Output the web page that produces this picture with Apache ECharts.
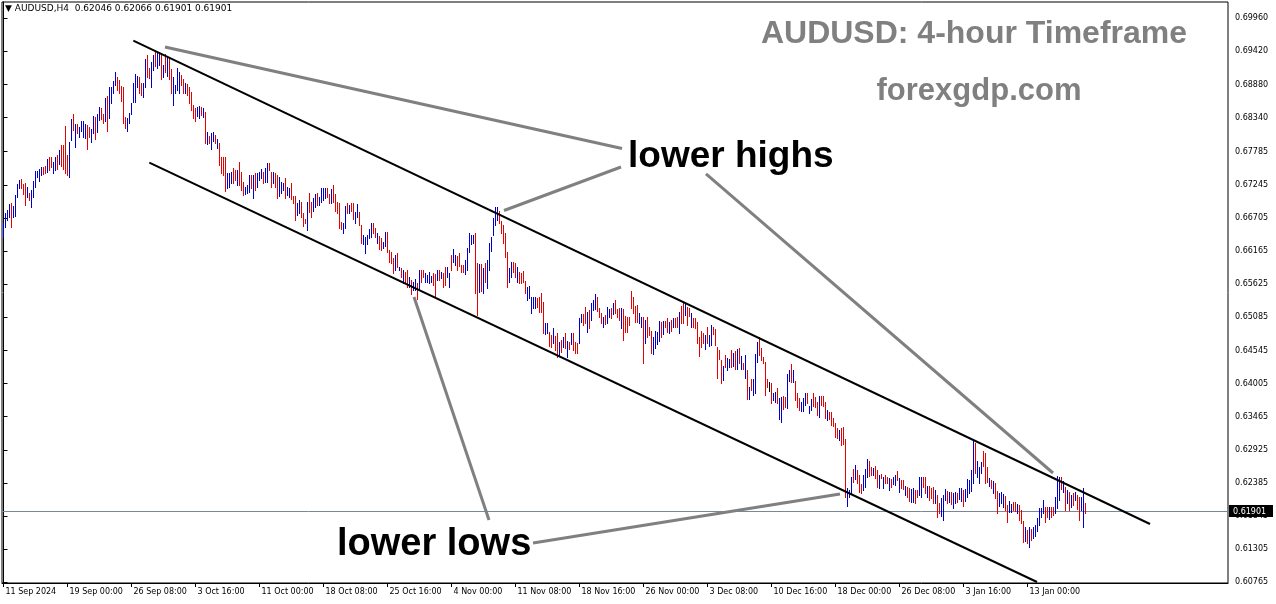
<!DOCTYPE html>
<html><head><meta charset="utf-8">
<script src="https://cdn.jsdelivr.net/npm/echarts@6/dist/echarts.min.js"></script>
<style>html,body{margin:0;padding:0;background:#fff;}#chart{width:1276px;height:604px;}</style>
</head><body><div id="chart"></div>
<script>
// AUDUSD H4 bars (high / low per bar), first bar 11 Sep 2024 16:00
const highs = [
0.6662,0.6679,0.6684,0.6693,0.6695,0.6690,0.6708,0.6726,0.6732,0.6734,
0.6726,0.6728,0.6721,0.6711,0.6716,0.6731,0.6747,0.6747,0.6750,0.6754,
0.6754,0.6755,0.6767,0.6770,0.6770,0.6762,0.6770,0.6773,0.6781,0.6789,
0.6789,0.6820,0.6773,0.6794,0.6832,0.6840,0.6824,0.6824,0.6819,0.6829,
0.6829,0.6824,0.6822,0.6819,0.6816,0.6837,0.6835,0.6840,0.6851,0.6850,
0.6840,0.6866,0.6869,0.6884,0.6884,0.6894,0.6908,0.6900,0.6895,0.6886,
0.6884,0.6835,0.6833,0.6842,0.6858,0.6891,0.6905,0.6902,0.6900,0.6891,
0.6891,0.6930,0.6936,0.6915,0.6925,0.6936,0.6941,0.6939,0.6941,0.6939,
0.6920,0.6938,0.6933,0.6931,0.6913,0.6900,0.6887,0.6915,0.6909,0.6904,
0.6897,0.6891,0.6889,0.6884,0.6876,0.6855,0.6850,0.6851,0.6853,0.6851,
0.6850,0.6843,0.6811,0.6804,0.6809,0.6811,0.6806,0.6799,0.6793,0.6770,
0.6770,0.6770,0.6744,0.6744,0.6746,0.6752,0.6749,0.6749,0.6762,0.6746,
0.6729,0.6721,0.6724,0.6741,0.6741,0.6741,0.6744,0.6744,0.6746,0.6750,
0.6746,0.6752,0.6760,0.6760,0.6746,0.6746,0.6744,0.6741,0.6737,0.6729,
0.6728,0.6736,0.6721,0.6719,0.6728,0.6706,0.6706,0.6695,0.6700,0.6697,
0.6679,0.6669,0.6697,0.6711,0.6697,0.6703,0.6710,0.6711,0.6705,0.6719,
0.6719,0.6719,0.6719,0.6710,0.6718,0.6724,0.6710,0.6697,0.6695,0.6664,
0.6662,0.6690,0.6695,0.6692,0.6695,0.6695,0.6680,0.6693,0.6680,0.6659,
0.6643,0.6640,0.6643,0.6653,0.6662,0.6662,0.6654,0.6646,0.6641,0.6638,
0.6631,0.6647,0.6648,0.6618,0.6615,0.6605,0.6610,0.6613,0.6591,0.6589,
0.6586,0.6583,0.6586,0.6574,0.6569,0.6566,0.6571,0.6565,0.6586,0.6586,
0.6586,0.6581,0.6578,0.6583,0.6576,0.6581,0.6579,0.6586,0.6586,0.6583,
0.6581,0.6591,0.6591,0.6581,0.6610,0.6620,0.6610,0.6608,0.6613,0.6594,
0.6594,0.6602,0.6622,0.6646,0.6643,0.6643,0.6646,0.6597,0.6596,0.6596,
0.6589,0.6597,0.6602,0.6630,0.6640,0.6670,0.6688,0.6688,0.6682,0.6666,
0.6659,0.6646,0.6615,0.6589,0.6599,0.6599,0.6597,0.6591,0.6583,0.6581,
0.6584,0.6568,0.6558,0.6560,0.6542,0.6542,0.6542,0.6540,0.6542,0.6548,
0.6534,0.6499,0.6499,0.6485,0.6480,0.6491,0.6478,0.6483,0.6468,0.6472,
0.6476,0.6483,0.6470,0.6468,0.6483,0.6483,0.6468,0.6467,0.6508,0.6514,
0.6514,0.6525,0.6517,0.6521,0.6532,0.6537,0.6547,0.6542,0.6524,0.6516,
0.6509,0.6512,0.6525,0.6522,0.6524,0.6532,0.6537,0.6522,0.6524,0.6524,
0.6522,0.6511,0.6509,0.6509,0.6551,0.6542,0.6527,0.6529,0.6516,0.6509,
0.6509,0.6504,0.6509,0.6493,0.6486,0.6477,0.6486,0.6485,0.6502,0.6501,
0.6502,0.6502,0.6508,0.6501,0.6504,0.6508,0.6508,0.6509,0.6517,0.6527,
0.6534,0.6530,0.6525,0.6524,0.6516,0.6508,0.6508,0.6501,0.6477,0.6486,
0.6483,0.6480,0.6493,0.6480,0.6496,0.6493,0.6489,0.6460,0.6455,0.6439,
0.6429,0.6447,0.6442,0.6441,0.6455,0.6450,0.6454,0.6457,0.6458,0.6446,
0.6434,0.6447,0.6423,0.6395,0.6408,0.6408,0.6449,0.6468,0.6476,0.6459,
0.6444,0.6436,0.6408,0.6403,0.6401,0.6385,0.6387,0.6393,0.6377,0.6379,
0.6380,0.6379,0.6416,0.6423,0.6433,0.6423,0.6405,0.6385,0.6377,0.6370,
0.6377,0.6385,0.6385,0.6364,0.6375,0.6385,0.6379,0.6370,0.6380,0.6380,
0.6380,0.6370,0.6357,0.6354,0.6354,0.6344,0.6336,0.6328,0.6325,0.6328,
0.6330,0.6310,0.6230,0.6227,0.6248,0.6261,0.6268,0.6260,0.6251,0.6237,
0.6251,0.6261,0.6277,0.6274,0.6264,0.6263,0.6266,0.6260,0.6251,0.6253,
0.6248,0.6251,0.6248,0.6246,0.6245,0.6248,0.6251,0.6258,0.6246,0.6243,
0.6243,0.6233,0.6232,0.6230,0.6229,0.6230,0.6227,0.6227,0.6248,0.6248,
0.6248,0.6248,0.6233,0.6233,0.6230,0.6232,0.6227,0.6219,0.6206,0.6214,
0.6219,0.6229,0.6225,0.6224,0.6224,0.6222,0.6224,0.6222,0.6230,0.6230,
0.6227,0.6229,0.6245,0.6243,0.6260,0.6309,0.6304,0.6274,0.6264,0.6273,
0.6291,0.6287,0.6264,0.6246,0.6243,0.6242,0.6238,0.6225,0.6222,0.6224,
0.6220,0.6217,0.6203,0.6209,0.6204,0.6208,0.6208,0.6204,0.6203,0.6195,
0.6177,0.6167,0.6162,0.6167,0.6164,0.6167,0.6170,0.6181,0.6198,0.6198,
0.6211,0.6199,0.6199,0.6199,0.6199,0.6199,0.6216,0.6250,0.6248,0.6248,
0.6242,0.6232,0.6227,0.6224,0.6219,0.6222,0.6224,0.6219,0.6216,0.6216,
0.6230,0.62066
];
const lows = [
0.6640,0.6656,0.6667,0.6672,0.6656,0.6672,0.6674,0.6705,0.6719,0.6719,
0.6710,0.6692,0.6705,0.6700,0.6688,0.6705,0.6721,0.6737,0.6731,0.6741,
0.6742,0.6744,0.6746,0.6749,0.6754,0.6744,0.6749,0.6750,0.6758,0.6755,
0.6750,0.6744,0.6741,0.6737,0.6798,0.6814,0.6786,0.6809,0.6802,0.6812,
0.6802,0.6801,0.6783,0.6802,0.6794,0.6809,0.6799,0.6811,0.6830,0.6832,
0.6825,0.6829,0.6812,0.6833,0.6858,0.6874,0.6887,0.6879,0.6874,0.6861,
0.6825,0.6817,0.6812,0.6825,0.6840,0.6860,0.6860,0.6884,0.6874,0.6871,
0.6868,0.6884,0.6900,0.6899,0.6884,0.6912,0.6918,0.6915,0.6920,0.6897,
0.6900,0.6909,0.6902,0.6897,0.6874,0.6855,0.6874,0.6879,0.6874,0.6887,
0.6874,0.6874,0.6871,0.6858,0.6847,0.6833,0.6829,0.6837,0.6833,0.6838,
0.6835,0.6793,0.6791,0.6793,0.6783,0.6796,0.6793,0.6785,0.6757,0.6744,
0.6741,0.6714,0.6719,0.6721,0.6728,0.6728,0.6732,0.6724,0.6724,0.6716,
0.6708,0.6710,0.6711,0.6713,0.6719,0.6703,0.6716,0.6721,0.6732,0.6736,
0.6728,0.6729,0.6729,0.6749,0.6721,0.6728,0.6721,0.6703,0.6706,0.6711,
0.6716,0.6703,0.6708,0.6705,0.6701,0.6695,0.6667,0.6675,0.6679,0.6672,
0.6657,0.6662,0.6651,0.6680,0.6672,0.6682,0.6688,0.6692,0.6692,0.6697,
0.6700,0.6703,0.6705,0.6695,0.6695,0.6697,0.6682,0.6679,0.6654,0.6653,
0.6646,0.6654,0.6679,0.6679,0.6682,0.6669,0.6662,0.6672,0.6659,0.6630,
0.6628,0.6613,0.6628,0.6638,0.6640,0.6646,0.6640,0.6630,0.6620,0.6618,
0.6622,0.6625,0.6615,0.6599,0.6597,0.6581,0.6586,0.6591,0.6586,0.6574,
0.6565,0.6565,0.6558,0.6558,0.6547,0.6553,0.6553,0.6538,0.6553,0.6566,
0.6574,0.6566,0.6566,0.6565,0.6566,0.6561,0.6542,0.6569,0.6569,0.6573,
0.6558,0.6561,0.6574,0.6558,0.6586,0.6599,0.6594,0.6586,0.6592,0.6583,
0.6583,0.6579,0.6586,0.6615,0.6628,0.6630,0.6548,0.6512,0.6550,0.6551,
0.6548,0.6566,0.6556,0.6586,0.6617,0.6643,0.6659,0.6667,0.6662,0.6646,
0.6630,0.6607,0.6558,0.6566,0.6574,0.6583,0.6574,0.6566,0.6565,0.6565,
0.6566,0.6548,0.6537,0.6540,0.6516,0.6524,0.6524,0.6525,0.6517,0.6517,
0.6483,0.6481,0.6483,0.6462,0.6460,0.6467,0.6455,0.6444,0.6447,0.6452,
0.6460,0.6458,0.6444,0.6457,0.6465,0.6455,0.6450,0.6450,0.6467,0.6501,
0.6496,0.6499,0.6485,0.6491,0.6504,0.6521,0.6522,0.6519,0.6509,0.6499,
0.6493,0.6498,0.6499,0.6509,0.6508,0.6514,0.6516,0.6509,0.6504,0.6491,
0.6472,0.6485,0.6485,0.6496,0.6524,0.6516,0.6501,0.6501,0.6499,0.6493,
0.6434,0.6467,0.6477,0.6480,0.6450,0.6449,0.6458,0.6465,0.6470,0.6477,
0.6481,0.6493,0.6485,0.6483,0.6486,0.6493,0.6493,0.6493,0.6483,0.6499,
0.6499,0.6512,0.6496,0.6511,0.6493,0.6493,0.6491,0.6467,0.6446,0.6460,
0.6467,0.6457,0.6467,0.6462,0.6464,0.6481,0.6464,0.6410,0.6441,0.6402,
0.6406,0.6428,0.6423,0.6428,0.6428,0.6429,0.6424,0.6424,0.6434,0.6424,
0.6424,0.6410,0.6375,0.6375,0.6390,0.6382,0.6386,0.6436,0.6447,0.6439,
0.6434,0.6382,0.6395,0.6388,0.6369,0.6374,0.6371,0.6369,0.6343,0.6338,
0.6359,0.6362,0.6361,0.6405,0.6403,0.6403,0.6374,0.6362,0.6357,0.6356,
0.6356,0.6366,0.6369,0.6353,0.6357,0.6364,0.6362,0.6349,0.6346,0.6366,
0.6364,0.6344,0.6341,0.6343,0.6333,0.6331,0.6313,0.6312,0.6309,0.6300,
0.6302,0.6216,0.6201,0.6216,0.6222,0.6240,0.6245,0.6238,0.6224,0.6222,
0.6227,0.6232,0.6248,0.6250,0.6251,0.6251,0.6247,0.6232,0.6230,0.6247,
0.6230,0.6238,0.6238,0.6227,0.6232,0.6237,0.6235,0.6243,0.6224,0.6230,
0.6229,0.6219,0.6216,0.6209,0.6208,0.6208,0.6206,0.6216,0.6219,0.6216,
0.6232,0.6222,0.6216,0.6211,0.6214,0.6206,0.6206,0.6183,0.6190,0.6185,
0.6178,0.6211,0.6206,0.6208,0.6204,0.6198,0.6206,0.6208,0.6213,0.6209,
0.6201,0.6209,0.6216,0.6222,0.6226,0.6239,0.6255,0.6248,0.6239,0.6255,
0.6266,0.6239,0.6240,0.6233,0.6230,0.6222,0.6214,0.6190,0.6201,0.6206,
0.6199,0.6195,0.6175,0.6191,0.6191,0.6195,0.6193,0.6190,0.6178,0.6173,
0.6142,0.6144,0.6141,0.6134,0.6146,0.6149,0.6152,0.6160,0.6170,0.6183,
0.6190,0.6175,0.6183,0.6180,0.6183,0.6186,0.6190,0.6198,0.6211,0.6229,
0.6224,0.6195,0.6206,0.6195,0.6199,0.6203,0.6211,0.6196,0.6178,0.6195,
0.6167,0.61901
];
// u = up bar (close > open), d = down bar, n = unchanged
const barDirections = [
"uuuuduuuud","dduduuuuuu","ddudduudud","ddduududuu","uudduuduud",
"duduuuuddd","dduuuuuudd","uudduuduud","ududduuuud","duddddduud",
"ududuududd","dduuuddudd","duuududuuu","duuddudduu","uduuddduud",
"ddudduuduu","uudduddddd","uududduudd","uuuuuddudd","uuddddudud",
"udduduudud","duuuuddudu","dduuduuddd","duuuuuddud","uduuuuuudd",
"ddduuddudd","dduuuuuddd","duudduddud","udududdduu","dduduuuddd",
"uduududddu","dddddddduu","duddduuuud","uddududdud","dudduddddd",
"duduuddddd","uduudududu","dududuuudd","dddnduuduu","dduududddu",
"uuduudddud","ddudddddud","dduuududdd","uuudduddud","udduduudud",
"dudduudduu","dduddduddu","uududuuduu","duuuuuduuu","dddududduu",
"udduuddudd","dududuuuuu","uddudduuud","ududududdu","ud"
].join('');
const timeLabels = ['11 Sep 2024','19 Sep 00:00','26 Sep 08:00','3 Oct 16:00','11 Oct 00:00','18 Oct 08:00',
  '25 Oct 16:00','4 Nov 00:00','11 Nov 08:00','18 Nov 16:00','26 Nov 00:00','3 Dec 08:00','10 Dec 16:00',
  '18 Dec 00:00','26 Dec 08:00','3 Jan 16:00','13 Jan 00:00'];
const barsPerTimeLabel = 32;
const priceTickLabels = ['0.69960','0.69420','0.68880','0.68340','0.67785','0.67245','0.66705','0.66165','0.65625',
  '0.65085','0.64545','0.64005','0.63465','0.62925','0.62385','0.61845','0.61305','0.60765'];
const lastPrice = 0.61901;
const headerText = 'AUDUSD,H4  0.62046 0.62066 0.61901 0.61901';
// drawn trend lines: [[barIndex, price], [barIndex, price]]
const channelLines = [
  [[64.9, 0.69595], [573.25, 0.61717]],
  [[72.9, 0.67606], [516.75, 0.60771]]
];
const pointerLines = [
  [[80.75, 0.69492], [309.25, 0.67837]],
  [[250.25, 0.66827], [308.75, 0.67536]],
  [[351.25, 0.67422], [524.75, 0.62548]],
  [[205.25, 0.65417], [242.75, 0.61782]],
  [[264.75, 0.61407], [418.25, 0.62206]]
];

const n = Math.min(highs.length, lows.length, barDirections.length);
const barData = [];
for (let i = 0; i < n; i++) {
  const d = barDirections[i];
  barData.push([i, highs[i], lows[i], d === 'u' ? 0 : (d === 'd' ? 1 : 2)]);
}
const barColors = ['#0000cc', '#e60000', '#000000'];
const axisFont = '"DejaVu Sans", Tahoma, sans-serif';
const timeTickValues = timeLabels.map((_, k) => k * barsPerTimeLabel);
const priceTickValues = priceTickLabels.map(Number);

const chart = echarts.init(document.getElementById('chart'), null, {renderer: 'canvas'});
chart.setOption({
  animation: false,
  backgroundColor: '#ffffff',
  grid: {left: 2, right: 48, top: 2, bottom: 21, show: true, borderColor: '#000', borderWidth: 1, backgroundColor: 'transparent'},
  xAxis: {
    type: 'value', min: -0.75, max: 612.25,
    axisLine: {show: true, lineStyle: {color: '#000', width: 1}},
    axisTick: {show: true, length: 4, inside: false, customValues: timeTickValues, lineStyle: {color: '#000'}},
    axisLabel: {show: true, customValues: timeTickValues, align: 'left', margin: 5, padding: [0, 0, 0, 2],
      fontFamily: axisFont, fontSize: 8, color: '#000',
      formatter: v => timeLabels[Math.round(v / barsPerTimeLabel)] || ''},
    splitLine: {show: false}
  },
  yAxis: {
    type: 'value', position: 'right', min: 0.60755, max: 0.702254, scale: true,
    axisLine: {show: true, lineStyle: {color: '#000', width: 1}},
    axisTick: {show: true, length: 4, inside: false, customValues: priceTickValues, lineStyle: {color: '#000'}},
    axisLabel: {show: true, customValues: priceTickValues, margin: 7, fontFamily: axisFont, fontSize: 8, color: '#000',
      formatter: v => { const s = priceTickLabels.find(t => Math.abs(Number(t) - v) < 1e-7); return s || v.toFixed(5); }},
    splitLine: {show: false}
  },
  series: [
    {
      type: 'custom', name: 'AUDUSD', data: barData, z: 2, silent: true,
      encode: {x: 0, y: [1, 2]},
      renderItem: function (params, api) {
        const hi = api.coord([api.value(0), api.value(1)]);
        const lo = api.coord([api.value(0), api.value(2)]);
        const x = Math.floor(hi[0]) + 0.5;
        return {type: 'line', shape: {x1: x, y1: Math.round(hi[1]), x2: x, y2: Math.round(lo[1]) + 1},
          style: {stroke: barColors[api.value(3)], lineWidth: 1}};
      }
    },
    {
      // bid line with its price box on the axis
      type: 'custom', name: 'bid', data: [[0, lastPrice]], z: 1, silent: true, clip: false,
      encode: {x: 0, y: 1},
      renderItem: function (params, api) {
        const p = api.coord([api.value(0), api.value(1)]);
        const cs = params.coordSys;
        const y = Math.round(p[1]) - 1.5;
        const right = cs.x + cs.width;
        return {type: 'group', children: [
          {type: 'line', shape: {x1: cs.x, y1: y, x2: right, y2: y}, style: {stroke: '#778899', lineWidth: 1}},
          {type: 'rect', z2: 10, shape: {x: right + 1, y: y - 6.5, width: 44, height: 12}, style: {fill: '#000000'}},
          {type: 'text', z2: 11, style: {text: lastPrice.toFixed(5), x: right + 5, y: y, fill: '#ffffff',
            font: '8px ' + axisFont, verticalAlign: 'middle', align: 'left'}}
        ]};
      }
    },
    {
      type: 'lines', coordinateSystem: 'cartesian2d', z: 4, silent: true,
      data: channelLines.map(c => ({coords: c})),
      lineStyle: {color: '#000000', width: 2, opacity: 1, curveness: 0}
    },
    {
      type: 'lines', coordinateSystem: 'cartesian2d', z: 5, silent: true,
      data: pointerLines.map(c => ({coords: c})),
      lineStyle: {color: '#808080', width: 3, opacity: 1, curveness: 0}
    }
  ],
  graphic: [
    {type: 'text', x: 5, y: 9, z: 10, style: {text: '\u25BC ' + headerText, font: '9px ' + axisFont, fill: '#000', verticalAlign: 'middle'}},
    {type: 'text', x: 974, y: 34, z: 10, style: {text: 'AUDUSD: 4-hour Timeframe', font: 'bold 32px "Liberation Sans", Arial, sans-serif', fill: '#808080', align: 'center', verticalAlign: 'middle'}},
    {type: 'text', x: 979, y: 91, z: 10, style: {text: 'forexgdp.com', font: 'bold 31px "Liberation Sans", Arial, sans-serif', fill: '#808080', align: 'center', verticalAlign: 'middle'}},
    {type: 'text', x: 628, y: 157, z: 10, style: {text: 'lower highs', font: 'bold 37px "Liberation Sans", Arial, sans-serif', fill: '#000', align: 'left', verticalAlign: 'middle'}},
    {type: 'text', x: 337, y: 545, z: 10, style: {text: 'lower lows', font: 'bold 38px "Liberation Sans", Arial, sans-serif', fill: '#000', align: 'left', verticalAlign: 'middle'}}
  ]
});
</script>
</body></html>
